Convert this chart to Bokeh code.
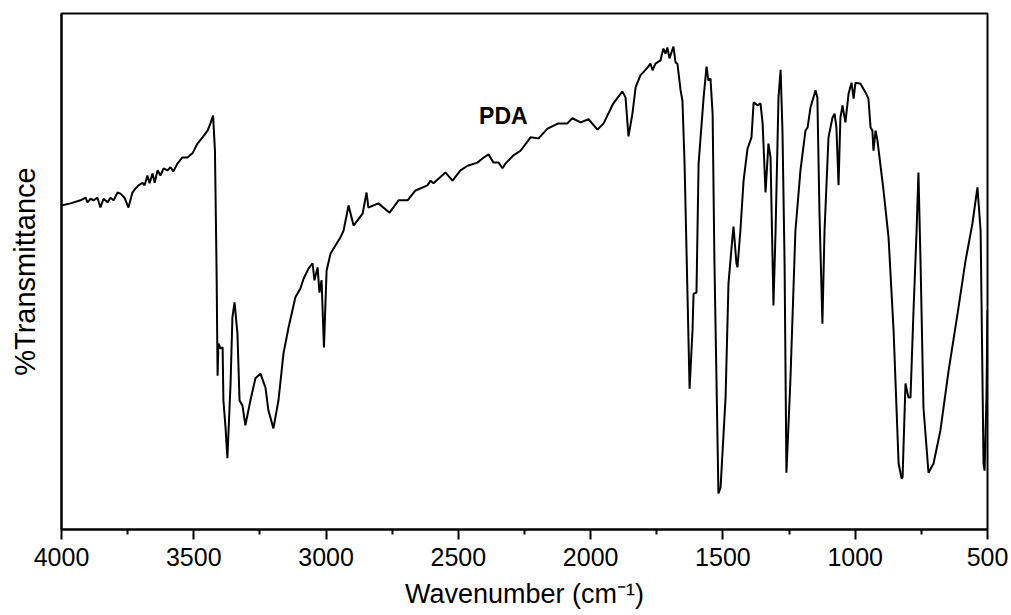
from bokeh.plotting import figure
from bokeh.models import Range1d, FixedTicker, Label
from bokeh.embed import file_html
from bokeh.resources import INLINE

# FTIR spectrum of PDA (wavenumber in cm-1, transmittance in arbitrary %)
wavenumber = [
    4000, 3966, 3928, 3909, 3902, 3890, 3879, 3864, 3853, 3841, 3826, 3815, 3803, 3788, 3777,
    3762, 3747, 3732, 3720, 3709, 3694, 3686, 3675, 3667, 3656, 3648, 3637, 3626, 3614, 3599,
    3588, 3577, 3562, 3543, 3524, 3505, 3486, 3467, 3448, 3437, 3427,
    3420, 3414, 3410, 3407, 3399, 3391, 3388, 3380, 3373, 3361, 3354, 3346, 3335, 3327, 3316,
    3305, 3286, 3267, 3248, 3229, 3218, 3199, 3180, 3161, 3142, 3116, 3097, 3085, 3066, 3051,
    3044, 3032, 3025, 3017, 3008, 2998, 2983,
    2946, 2934, 2915, 2896, 2862, 2847, 2840, 2802, 2760, 2726, 2692, 2662, 2617, 2605, 2594,
    2549, 2522, 2492, 2465, 2428, 2409, 2386, 2367, 2348, 2333, 2322, 2292, 2265, 2227, 2197,
    2163, 2122, 2088, 2069, 2038, 2008, 1974, 1951, 1914, 1880, 1868, 1857, 1842, 1830, 1812,
    1785, 1774, 1766, 1755, 1736, 1725, 1717, 1710, 1702, 1687, 1679, 1672, 1660, 1653, 1645,
    1634, 1626, 1615, 1611, 1600, 1592, 1573, 1562, 1555, 1547, 1539, 1532, 1517, 1509, 1490,
    1479, 1464, 1460, 1449, 1445, 1434, 1422, 1407, 1392, 1384, 1369, 1358, 1350, 1339, 1328,
    1320, 1309, 1301, 1290, 1282, 1275, 1267, 1260, 1245, 1226, 1207, 1188, 1180, 1169, 1150,
    1143, 1135, 1124, 1116, 1101, 1086, 1078, 1071, 1063, 1056, 1048, 1037, 1025, 1014, 1006,
    999, 980, 961, 950, 942, 935, 931, 923, 916, 893, 874, 855, 836, 825, 821,
    810, 799, 791, 780, 768, 761, 753, 742, 723, 704, 678, 647, 613, 583, 557,
    538, 526, 515, 511, 504, 500,
]
transmittance = [
    62.8, 63.2, 63.8, 64.3, 63.4, 64.1, 63.8, 64.3, 62.4, 64.1, 63.4, 64.3, 63.8, 65.3, 65.1,
    64.3, 62.4, 65.3, 66.1, 66.7, 67.2, 66.7, 68.6, 67.1, 69.0, 67.2, 69.6, 68.6, 70.0, 69.6,
    70.2, 69.4, 70.9, 72.1, 72.1, 72.9, 74.8, 76.0, 77.3, 78.7, 80.2,
    73.4, 50.8, 29.8, 36.0, 35.1, 35.3, 25.0, 19.8, 13.8, 28.3, 41.1, 44.0, 38.0, 25.0, 24.0,
    20.2, 25.0, 29.3, 30.2, 27.5, 23.1, 19.6, 25.0, 34.1, 39.1, 45.0, 46.7, 48.6, 50.6, 51.6,
    48.3, 50.8, 45.9, 48.3, 35.3, 50.2, 53.5,
    56.6, 57.9, 62.8, 58.9, 61.2, 65.3, 62.4, 63.2, 61.4, 63.8, 63.8, 65.7, 66.7, 67.6, 67.1,
    69.2, 67.6, 69.6, 70.5, 71.1, 71.9, 72.7, 71.1, 71.1, 70.0, 70.9, 72.5, 73.4, 76.0, 75.8,
    77.7, 78.7, 78.7, 79.7, 78.9, 79.5, 77.5, 78.7, 82.6, 84.9, 83.7, 76.2, 80.6, 85.7, 88.0,
    89.5, 90.3, 89.0, 90.3, 90.9, 93.2, 92.2, 93.4, 91.3, 93.6, 90.5, 90.3, 85.1, 83.1, 70.9,
    45.7, 27.3, 38.6, 45.7, 45.9, 70.9, 83.7, 89.7, 87.0, 87.4, 80.6, 51.6, 7.0, 8.1, 25.6,
    47.7, 56.6, 58.7, 51.6, 50.8, 57.9, 67.6, 73.8, 76.0, 82.8, 82.2, 82.6, 78.7, 65.3, 74.8,
    72.1, 43.4, 57.9, 83.7, 89.1, 77.3, 51.6, 11.0, 28.9, 57.9, 69.6, 77.3, 77.9, 81.8, 85.1,
    83.7, 61.2, 39.9, 57.9, 76.0, 79.8, 80.6, 77.9, 66.7, 79.8, 82.2, 78.9, 84.5, 86.6, 83.5,
    86.6, 86.4, 84.7, 83.5, 77.9, 77.3, 73.4, 77.3, 75.4, 65.7, 56.6, 38.6, 12.8, 9.9, 10.1,
    28.3, 25.6, 25.6, 41.9, 57.9, 69.2, 51.6, 23.6, 11.0, 12.8, 19.2, 30.8, 41.9, 52.1, 59.3,
    66.3, 57.9, 12.8, 11.4, 25.6, 42.4,
]
x_ticks = [4000, 3500, 3000, 2500, 2000, 1500, 1000, 500]
x_minor_ticks = [3750, 3250, 2750, 2250, 1750, 1250, 750]
sample_name = "PDA"
sample_label_pos = (2330, 80.2)
x_title = "Wavenumber (cm\u207b\u00b9)"
y_title = "%Transmittance"

FONT = "Liberation Sans"

p = figure(
    width=1011, height=615,
    x_range=Range1d(4000, 500), y_range=Range1d(0, 100),
    output_backend="svg", toolbar_location=None,
    min_border_left=61, min_border_right=24, min_border_top=13, min_border_bottom=86,
)
p.background_fill_color = "white"
p.border_fill_color = "white"
p.grid.visible = False
p.outline_line_color = "black"
p.outline_line_width = 2

p.line(wavenumber, transmittance, line_color="black", line_width=2)

xa = p.xaxis[0]
xa.ticker = FixedTicker(ticks=x_ticks, minor_ticks=x_minor_ticks)
xa.axis_label = x_title
xa.axis_label_text_font = FONT
xa.axis_label_text_font_size = "27px"
xa.axis_label_text_font_style = "normal"
xa.axis_label_text_color = "black"
xa.axis_label_standoff = 10
xa.major_label_text_font = FONT
xa.major_label_text_font_size = "25px"
xa.major_label_text_color = "black"
xa.major_label_standoff = 8
xa.major_tick_out = 10
xa.major_tick_in = 0
xa.minor_tick_out = 5
xa.minor_tick_in = 0
xa.axis_line_width = 2
xa.major_tick_line_width = 2
xa.minor_tick_line_width = 2
xa.axis_line_color = "black"

ya = p.yaxis[0]
ya.ticker = FixedTicker(ticks=[])
ya.axis_label = y_title
ya.axis_label_text_font = FONT
ya.axis_label_text_font_size = "29px"
ya.axis_label_text_font_style = "normal"
ya.axis_label_text_color = "black"
ya.axis_label_standoff = 21
ya.major_tick_out = 0
ya.major_tick_in = 0
ya.minor_tick_out = 0
ya.minor_tick_in = 0
ya.major_label_text_font_size = "0px"
ya.axis_line_width = 2
ya.axis_line_color = "black"

p.add_layout(Label(
    x=sample_label_pos[0], y=sample_label_pos[1], text=sample_name,
    text_font=FONT, text_font_size="23px", text_font_style="bold",
    text_align="center", text_baseline="middle", text_color="black",
))

open("out.html", "w").write(file_html(p, INLINE))
